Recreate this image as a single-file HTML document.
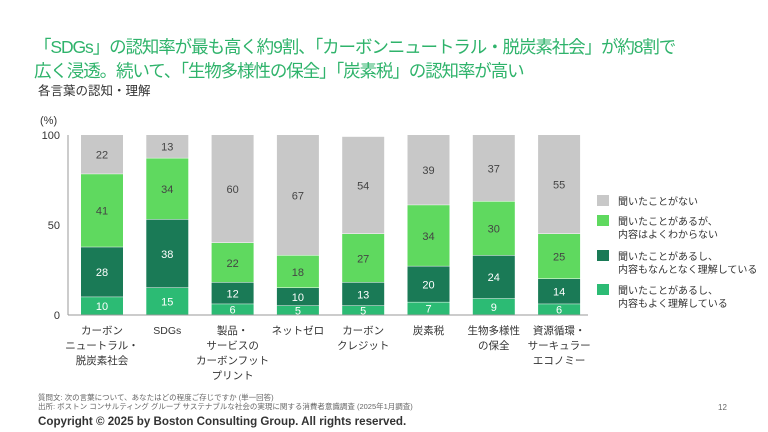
<!DOCTYPE html>
<html><head><meta charset="utf-8"><style>
body{margin:0;width:768px;height:432px;overflow:hidden;background:#fff;font-family:"Liberation Sans","Noto Sans CJK JP",sans-serif;position:relative}
.t{position:absolute;white-space:nowrap}
</style></head><body>
<div class="t" style="left:34px;top:35px;font-size:17.5px;letter-spacing:-1.1px;line-height:24px;color:#2fb36b">「SDGs」の認知率が最も高く約9割、「カーボンニュートラル・脱炭素社会」が約8割で<br>広く浸透。続いて、「生物多様性の保全」「炭素税」の認知率が高い</div>
<div class="t" style="left:38px;top:80px;font-size:12.5px;color:#333">各言葉の認知・理解</div>
<svg id="c" width="768" height="432" style="position:absolute;left:0;top:0"></svg>
<div class="t" style="left:38px;top:393px;font-size:7.5px;line-height:9px;color:#666">質問文: 次の言葉について、あなたはどの程度ご存じですか (単一回答)<br>出所: ボストン コンサルティング グループ サステナブルな社会の実現に関する消費者意識調査 (2025年1月調査)</div>
<div class="t" style="left:718px;top:403px;font-size:8px;color:#666">12</div>
<div class="t" style="left:38px;top:415px;font-size:11.6px;font-weight:bold;color:#333">Copyright © 2025 by Boston Consulting Group. All rights reserved.</div>
<script>
const categories=[["カーボン","ニュートラル・","脱炭素社会"],["SDGs"],["製品・","サービスの","カーボンフット","プリント"],["ネットゼロ"],["カーボン","クレジット"],["炭素税"],["生物多様性","の保全"],["資源循環・","サーキュラー","エコノミー"]];
const wellUnderstood=[10,15,6,5,5,7,9,6];
const somewhatUnderstood=[28,38,12,10,13,20,24,14];
const heardNotUnderstood=[41,34,22,18,27,34,30,25];
const neverHeard=[22,13,60,67,54,39,37,55];
const yTicks=[0,50,100];
const seriesNames=[["聞いたことがない"],["聞いたことがあるが、","内容はよくわからない"],["聞いたことがあるし、","内容もなんとなく理解している"],["聞いたことがあるし、","内容もよく理解している"]];
const svg=document.getElementById('c');const NS='http://www.w3.org/2000/svg';
function mk(t,a,txt){const e=document.createElementNS(NS,t);for(const k in a)e.setAttribute(k,a[k]);if(txt!==undefined)e.textContent=txt;svg.appendChild(e);return e;}
const y0=315,y1=135;const y=v=>y0-(y0-y1)*v/100;
const x=i=>102+i*65.3;const bw=42;
const series=[wellUnderstood,somewhatUnderstood,heardNotUnderstood,neverHeard];
const colors=['#2cbb74','#1a7a56','#5fd95f','#c8c8c8'];
const tcol=['#fff','#fff','#444','#444'];
const sn=['well-understood','somewhat-understood','heard-not-understood','never-heard'];
let ax=mk('line',{x1:68,x2:68,y1:135,y2:y0,stroke:'#999','stroke-width':1});

let bx=mk('line',{x1:68,x2:588,y1:y0,y2:y0,stroke:'#999','stroke-width':1});

yTicks.forEach(v=>{const t=mk('text',{x:60,y:y(v)+4,'text-anchor':'end','font-size':11,fill:'#333'},v);
});
const u=mk('text',{x:40,y:124,'font-size':11,fill:'#333'},'(%)');

categories.forEach((c,i)=>{
 const tot=series.reduce((s,a)=>s+a[i],0);const sc=100/Math.max(tot,100);
 let cum=0;
 series.forEach((a,j)=>{const v=a[i]*sc;const top=y(cum+v),bot=y(cum);
  const r=mk('rect',{x:x(i)-bw/2,y:top,width:bw,height:Math.max(bot-top-0.5,0),fill:colors[j]});
  
  const l=mk('text',{x:x(i),y:(top+bot)/2+4,'text-anchor':'middle','font-size':11,fill:tcol[j]},a[i]);
  
  cum+=v;});
 c.forEach((ln,k)=>{const t=mk('text',{x:x(i),y:334+k*15,'text-anchor':'middle','font-size':10.5,fill:'#333'},ln);
  });
});
const legY=[201,221,256,290];const legC=[3,2,1,0];
seriesNames.forEach((n,k)=>{const r=mk('rect',{x:597,y:legY[k]-6,width:12,height:11,fill:colors[legC[k]]});
 
 n.forEach((ln,m)=>{const t=mk('text',{x:618,y:legY[k]+4+m*13,'font-size':10,fill:'#333'},ln);
  });});
</script>
</body></html>
